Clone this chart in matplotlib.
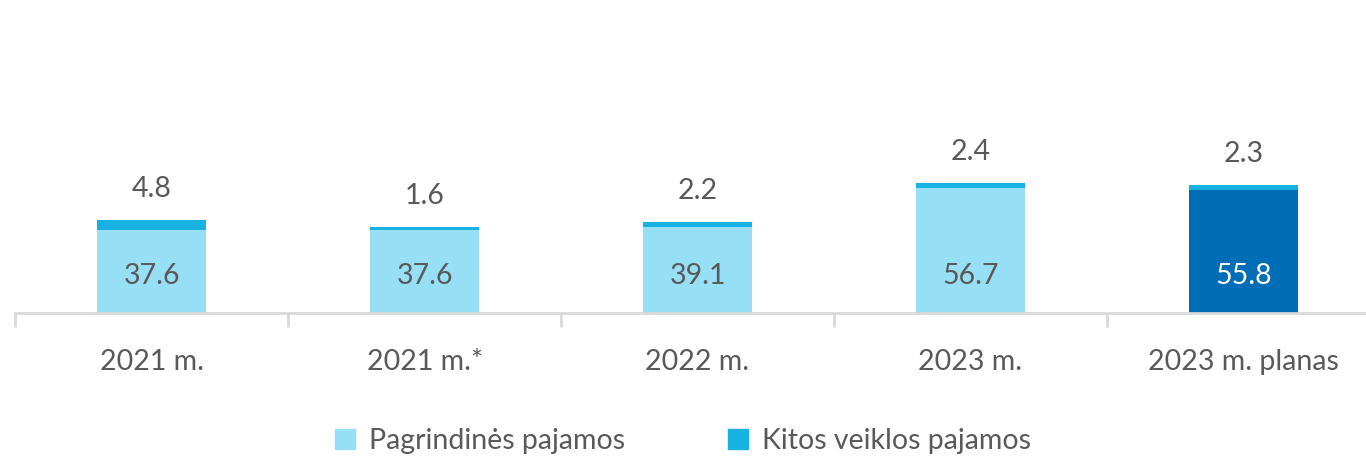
import matplotlib.pyplot as plt
import numpy as np

plt.rcParams['font.family'] = ['Lato', 'DejaVu Sans']

categories = ["2021 m.", "2021 m.*", "2022 m.", "2023 m.", "2023 m. planas"]
pagrindines = [37.6, 37.6, 39.1, 56.7, 55.8]
kitos = [4.8, 1.6, 2.2, 2.4, 2.3]

light = "#97dff5"
mid = "#17b2e2"
dark = "#006db6"
grey = "#595959"

fig = plt.figure(figsize=(13.66, 4.57), dpi=100)
ax = fig.add_axes([15/1366, (457-313)/457, 1365/1366, 220/457])

x = np.arange(len(categories))
base_colors = [light, light, light, light, dark]
ax.bar(x, pagrindines, width=0.4, color=base_colors)
ax.bar(x, kitos, width=0.4, bottom=pagrindines, color=mid)

for i in range(len(x)):
    c = "white" if i == 4 else grey
    ax.text(x[i], 16.8, f"{pagrindines[i]:.1f}", ha="center", va="center", fontsize=20.5, color=c)
    ax.annotate(f"{kitos[i]:.1f}", (x[i], pagrindines[i] + kitos[i]), xytext=(0, 13),
                textcoords="offset points", ha="center", va="bottom", fontsize=20.5, color=grey)

ax.set_xlim(-0.5, 4.5)
ax.set_ylim(0, 100)
for s in ["top", "right", "left"]:
    ax.spines[s].set_visible(False)
ax.spines["bottom"].set_color("#d9d9d9")
ax.spines["bottom"].set_linewidth(2)
ax.set_yticks([])
ax.set_xticks(x - 0.5, minor=True)
ax.tick_params(axis="x", which="minor", length=10, width=2, color="#d9d9d9")
ax.set_xticks(x)
ax.set_xticklabels(categories, fontsize=20.5, color=grey)
ax.tick_params(axis="x", which="major", length=0, pad=26)

h1 = plt.Rectangle((0, 0), 1, 1, color=light)
h2 = plt.Rectangle((0, 0), 1, 1, color=mid)
fig.legend([h1, h2], ["Pagrindinės pajamos", "Kitos veiklos pajamos"], loc="center",
           bbox_to_anchor=(683/1366, 1 - 441/457), ncol=2, frameon=False, fontsize=20.5,
           labelcolor=grey, handlelength=0.7, handleheight=0.7, handletextpad=0.5,
           columnspacing=3.6)

fig.savefig("out.png", dpi=100)
